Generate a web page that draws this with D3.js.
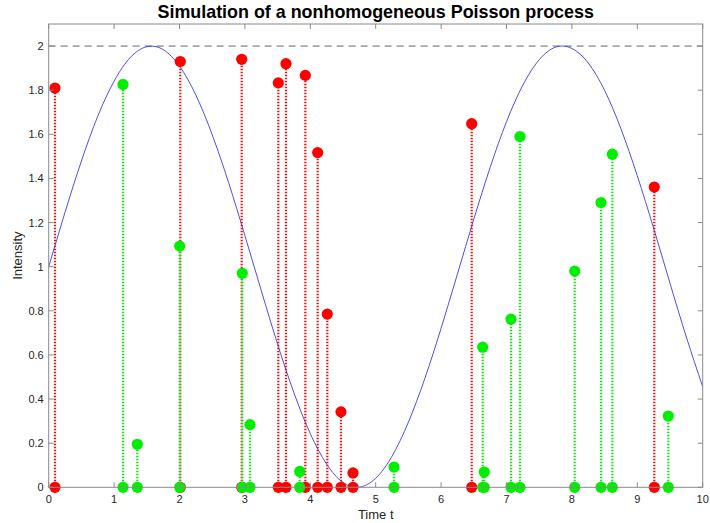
<!DOCTYPE html>
<html>
<head>
<meta charset="utf-8">
<script src="https://cdn.jsdelivr.net/npm/d3@7"></script>
<style>
  body { margin: 0; background: #fff; }
  text { font-family: Helvetica, Arial, "Liberation Sans", sans-serif; }
</style>
</head>
<body>
<div id="visSpace"></div>
<script>
//Rejected points (thinned out) - red stems
var rejectT = [0.096, 2.012, 2.951, 3.511, 3.628, 3.924, 4.113, 4.26, 4.469, 4.653, 6.468, 9.26];
var rejectV = [1.81, 1.93, 1.94, 1.833, 1.92, 1.867, 1.517, 0.785, 0.342, 0.065, 1.648, 1.361];
//Accepted points - green stems
var acceptT = [1.136, 1.355, 2.003, 2.96, 3.078, 3.838, 5.28, 6.636, 6.66, 7.069, 7.206, 8.043, 8.445, 8.618, 9.474];
var acceptV = [1.826, 0.195, 1.093, 0.97, 0.284, 0.072, 0.092, 0.635, 0.069, 0.762, 1.59, 0.98, 1.291, 1.51, 0.323];
//Intensity curve samples
var curveT = [0, 0.25, 0.5, 0.75, 1, 1.25, 1.5, 1.75, 2, 2.25, 2.5, 2.75, 3, 3.25, 3.5, 3.75, 4, 4.25, 4.5, 4.75,
              5, 5.25, 5.5, 5.75, 6, 6.25, 6.5, 6.75, 7, 7.25, 7.5, 7.75, 8, 8.25, 8.5, 8.75, 9, 9.25, 9.5, 9.75, 10];
var curveV = [1.000, 1.247, 1.479, 1.682, 1.841, 1.949, 1.997, 1.984, 1.909, 1.778, 1.598, 1.382, 1.141, 0.892,
              0.649, 0.428, 0.243, 0.105, 0.022, 0.001, 0.041, 0.141, 0.295, 0.492, 0.721, 0.967, 1.215, 1.450,
              1.657, 1.823, 1.938, 1.995, 1.989, 1.923, 1.799, 1.625, 1.412, 1.174, 0.925, 0.681, 0.456];
//Upper bound of the intensity
var lambdaMax = 2;
//Tick values
var xTicks = [0, 1, 2, 3, 4, 5, 6, 7, 8, 9, 10];
var yTicks = [0, 0.2, 0.4, 0.6, 0.8, 1, 1.2, 1.4, 1.6, 1.8, 2];

//Set margins
var margin = {top: 24, right: 7.3, bottom: 35.7, left: 48.7};
var width = 710 - margin.left - margin.right;
var height = 523 - margin.top - margin.bottom;

var svg = d3.select("#visSpace")
            .append("svg")
            .attr("width", 710)
            .attr("height", 523);
var g = svg.append("g")
           .attr("transform", "translate(" + margin.left + ", " + margin.top + ")");

var x = d3.scaleLinear().domain([0, 10]).range([0, width]);
var y = d3.scaleLinear().domain([0, 2.1]).range([height, 0]);

var axisColor = "#8a8a8a";
var labelColor = "#262626";

//Dashed line at the intensity bound
g.append("line")
 .attr("x1", x(0))
 .attr("x2", x(10))
 .attr("y1", y(lambdaMax))
 .attr("y2", y(lambdaMax))
 .attr("stroke", "#666")
 .attr("stroke-width", 1)
 .attr("stroke-dasharray", "7,5");

//Intensity curve
var line = d3.line()
             .x(function(d){return x(d[0]);})
             .y(function(d){return y(d[1]);})
             .curve(d3.curveNatural);
g.append("path")
 .datum(d3.zip(curveT, curveV))
 .attr("d", line)
 .attr("fill", "none")
 .attr("stroke", "#3a3ae8")
 .attr("stroke-width", 0.9);

//Draws a set of stems: dotted line from 0 up to the value, dots at both ends
function drawStems(ts, vs, lineColor, dotColor){
  var data = d3.zip(ts, vs);
  var grp = g.append("g");
  grp.selectAll("line")
     .data(data)
     .enter()
     .append("line")
     .attr("x1", function(d){return x(d[0]);})
     .attr("x2", function(d){return x(d[0]);})
     .attr("y1", y(0))
     .attr("y2", function(d){return y(d[1]);})
     .attr("stroke", lineColor)
     .attr("stroke-width", 2.2)
     .attr("stroke-dasharray", "1.5,1.5");
  grp.selectAll("circle.top")
     .data(data)
     .enter()
     .append("circle")
     .attr("class", "top")
     .attr("cx", function(d){return x(d[0]);})
     .attr("cy", function(d){return y(d[1]);})
     .attr("r", 5.6)
     .attr("fill", dotColor);
  grp.selectAll("circle.base")
     .data(data)
     .enter()
     .append("circle")
     .attr("class", "base")
     .attr("cx", function(d){return x(d[0]);})
     .attr("cy", y(0))
     .attr("r", 5.6)
     .attr("fill", dotColor);
}
drawStems(rejectT, rejectV, "#e01414", "#ff0000");
drawStems(acceptT, acceptV, "#14e014", "#00ee00");

//Axes box with inward ticks on all sides
var axisGroup = g.append("g");
axisGroup.append("rect")
         .attr("x", 0)
         .attr("y", 0)
         .attr("width", width)
         .attr("height", height)
         .attr("fill", "none")
         .attr("stroke", axisColor)
         .attr("stroke-width", 1);

var tickLen = 5;
axisGroup.selectAll("line.xb")
         .data(xTicks)
         .enter()
         .append("line")
         .attr("x1", function(d){return x(d);})
         .attr("x2", function(d){return x(d);})
         .attr("y1", height)
         .attr("y2", height - tickLen)
         .attr("stroke", axisColor);
axisGroup.selectAll("line.xt")
         .data(xTicks)
         .enter()
         .append("line")
         .attr("x1", function(d){return x(d);})
         .attr("x2", function(d){return x(d);})
         .attr("y1", 0)
         .attr("y2", tickLen)
         .attr("stroke", axisColor);
axisGroup.selectAll("line.yl")
         .data(yTicks)
         .enter()
         .append("line")
         .attr("x1", 0)
         .attr("x2", tickLen)
         .attr("y1", function(d){return y(d);})
         .attr("y2", function(d){return y(d);})
         .attr("stroke", axisColor);
axisGroup.selectAll("line.yr")
         .data(yTicks)
         .enter()
         .append("line")
         .attr("x1", width)
         .attr("x2", width - tickLen)
         .attr("y1", function(d){return y(d);})
         .attr("y2", function(d){return y(d);})
         .attr("stroke", axisColor);

//Tick labels
axisGroup.selectAll("text.xl")
         .data(xTicks)
         .enter()
         .append("text")
         .attr("x", function(d){return x(d);})
         .attr("y", height + 15.5)
         .attr("text-anchor", "middle")
         .attr("font-size", "11px")
         .attr("fill", labelColor)
         .text(function(d){return d;});
axisGroup.selectAll("text.yl")
         .data(yTicks)
         .enter()
         .append("text")
         .attr("x", -5)
         .attr("y", function(d){return y(d) + 4;})
         .attr("text-anchor", "end")
         .attr("font-size", "11px")
         .attr("fill", labelColor)
         .text(function(d){return d;});

//Axis labels and title
svg.append("text")
   .attr("x", margin.left + width / 2)
   .attr("y", 519)
   .attr("text-anchor", "middle")
   .attr("font-size", "13px")
   .attr("fill", labelColor)
   .text("Time t");
svg.append("text")
   .attr("transform", "translate(22, " + (margin.top + height / 2) + ") rotate(-90)")
   .attr("text-anchor", "middle")
   .attr("font-size", "13px")
   .attr("fill", labelColor)
   .text("Intensity");
svg.append("text")
   .attr("x", margin.left + width / 2)
   .attr("y", 17.5)
   .attr("text-anchor", "middle")
   .attr("font-size", "17.9px")
   .attr("font-weight", "bold")
   .attr("fill", "#000")
   .text("Simulation of a nonhomogeneous Poisson process");
</script>
</body>
</html>
